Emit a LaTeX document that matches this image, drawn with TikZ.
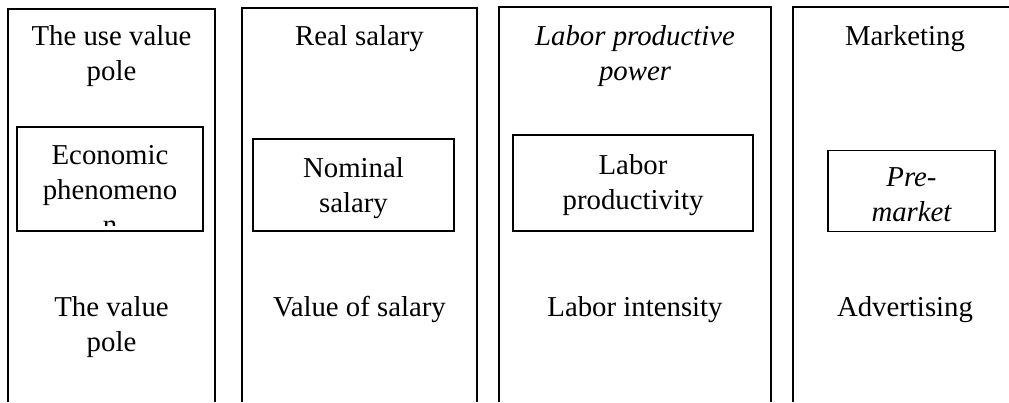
\documentclass[tikz,border=0pt]{standalone}
\usepackage{fontspec}
\setmainfont{Liberation Serif}
\usepackage{tikz}

\begin{document}
\begin{tikzpicture}[x=1pt,y=-1pt,
  frame/.style={line width=1.5pt},
  box/.style={draw, line width=1.5pt, inner sep=0pt},
  lbl/.style={inner sep=0pt, anchor=base, align=center, font=\fontsize{28.8}{35}\selectfont}]
\useasboundingbox (0,0) rectangle (1009,402);

% Column 1: the two poles
\begin{scope}[shift={(8,0)}]
\draw[frame] (0,402) |- (207,9) -- (207,402);
\node[lbl] (usepole) at (103.5,80) {The use value\\pole};
\begin{scope}
\clip (9,127) rectangle (195,225);
\node[lbl] (phen) at (102,234) {Economic\\phenomeno\\n};
\end{scope}
\node[box, minimum width=186pt, minimum height=104pt] (phenbox) at (102,179) {};
\node[lbl] (valpole) at (103.5,351) {The value\\pole};
\end{scope}

% Column 2: salary
\begin{scope}[shift={(242,0)}]
\draw[frame] (0,402) |- (235,8) -- (235,402);
\node[lbl] (realsal) at (117.5,45) {Real salary};
\node[box, minimum width=201pt, minimum height=92pt] (nombox) at (111.5,185) {};
\node[lbl] (nomsal) at (111.5,212) {Nominal\\salary};
\node[lbl] (valsal) at (117.5,316) {Value of salary};
\end{scope}

% Column 3: labor
\begin{scope}[shift={(499,0)}]
\draw[frame] (0,402) |- (272,7) -- (272,402);
\node[lbl, font=\fontsize{28.8}{35}\selectfont\itshape] (prodpow) at (136,80) {Labor productive\\power};
\node[box, minimum width=240pt, minimum height=96pt] (prodbox) at (134,183) {};
\node[lbl] (prod) at (134,209) {Labor\\productivity};
\node[lbl] (intens) at (136,316) {Labor intensity};
\end{scope}

% Column 4: market (cut at the right)
\begin{scope}[shift={(793,0)}]
\draw[frame] (0,402) |- (216,7);
\node[lbl] (mkt) at (112,45) {Marketing};
\node[box, minimum width=167pt, minimum height=81pt] (premktbox) at (118.5,191) {};
\node[lbl, font=\fontsize{28.8}{35}\selectfont\itshape] (premkt) at (118.5,221) {Pre-\\market};
\node[lbl] (advert) at (112,316) {Advertising};
\end{scope}
\end{tikzpicture}
\end{document}
